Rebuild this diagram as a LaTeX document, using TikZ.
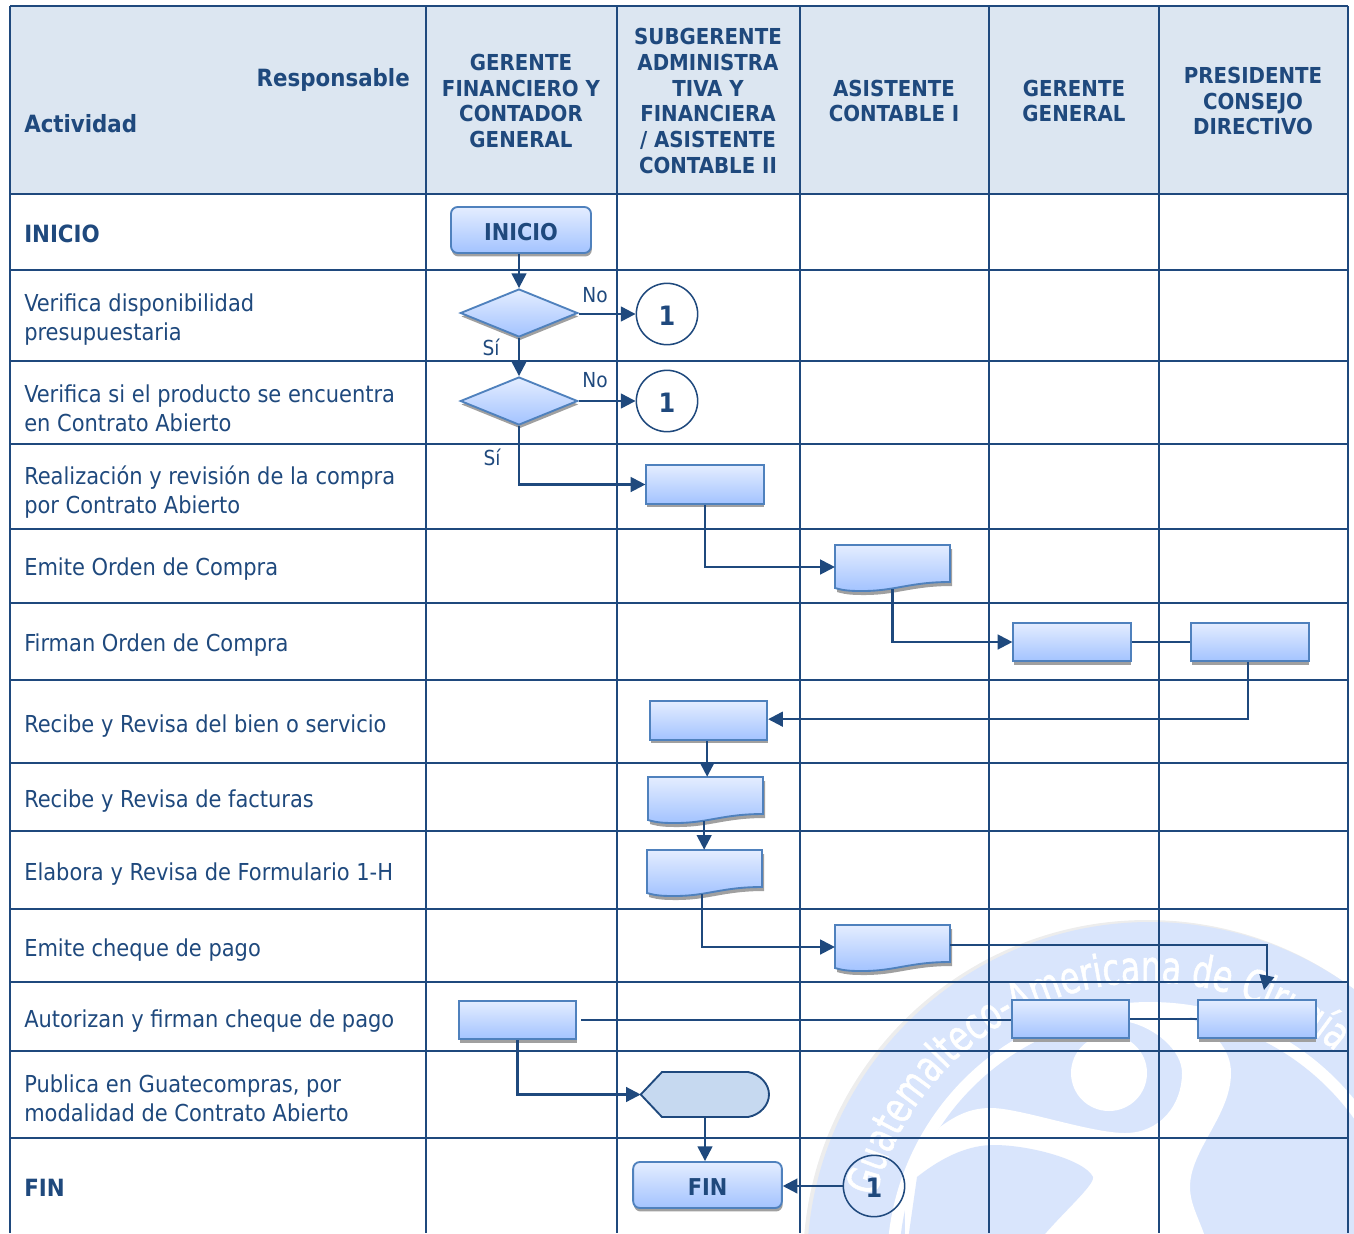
\documentclass[tikz,border=0pt]{standalone}
\usepackage{fontspec}
\setmainfont{DejaVu Sans Condensed}
\newfontfamily\wmfont{DejaVu Sans Condensed}[FakeStretch=0.8,FakeBold=1.2]
\usetikzlibrary{arrows.meta,shapes.geometric,shadows,decorations.text,calc}
\definecolor{navy}{HTML}{1F497D}
\definecolor{headfill}{HTML}{DCE6F1}
\definecolor{boxtop}{HTML}{E4EDFF}
\definecolor{boxbot}{HTML}{A3C3FF}
\definecolor{boxline}{HTML}{4F81BD}
\definecolor{shade}{HTML}{A0A0A0}
\definecolor{wm}{HTML}{D9E5FC}
\definecolor{dispfill}{HTML}{C6D9F0}
\tikzset{
  grid/.style={draw=navy,line width=1.45pt},
  conn/.style={draw=navy,line width=1.7pt},
  arr/.style={conn,-{Triangle[length=11pt,width=11pt]}},
  softshadow/.style={drop shadow={shadow xshift=0.6pt,shadow yshift=-2.6pt,fill=shade,opacity=1}},
  fillgrad/.style={top color=boxtop,bottom color=boxbot,draw=boxline,line width=1.4pt},
  procbox/.style={rectangle,fillgrad,softshadow,minimum width=88pt,minimum height=29pt,inner sep=0pt},
  termbox/.style={rectangle,rounded corners=5pt,fillgrad,softshadow,inner sep=0pt,text=navy,font=\fontsize{17.4}{20}\selectfont\bfseries},
  decide/.style={diamond,fillgrad,softshadow,minimum width=88pt,minimum height=36pt,inner sep=0pt},
  link/.style={circle,draw=navy,line width=1.15pt,minimum size=46pt,inner sep=0pt,text=navy,font=\fontsize{20}{24}\selectfont\bfseries},
  anchorbox/.style={rectangle,minimum width=86pt,minimum height=33pt,inner sep=0pt},
  activity/.style={anchor=west,align=left,text=navy,inner sep=0pt,font=\fontsize{17.5}{21.7}\selectfont},
  activitybold/.style={anchor=west,align=left,text=navy,inner sep=0pt,font=\fontsize{17.8}{22}\selectfont\bfseries},
  head/.style={align=center,text=navy,inner sep=0pt,font=\fontsize{16.5}{19.4}\selectfont\bfseries},
  answer/.style={text=navy,inner sep=0pt,font=\fontsize{15.5}{18}\selectfont},
}
\newcommand{\docshape}[3]{%
  \path[fill=shade,shift={(#2+2,#3+4)}] (0,0) -- (115,0) -- (115,37) .. controls (75,37) and (60,46) .. (28,46) .. controls (18,46) and (10,46) .. (0,43) -- cycle;
  \shade[fillgrad,shift={(#2,#3)}] (0,0) -- (115,0) -- (115,37) .. controls (75,37) and (60,46) .. (28,46) .. controls (18,46) and (10,46) .. (0,43) -- cycle;
  \node[anchorbox] (#1) at (#2+57.5,#3+22) {};
}
\newcommand{\lowered}[1]{\raisebox{-1.5pt}[\height][\depth]{#1}}
\begin{document}
\begin{tikzpicture}[x=0.75pt,y=-0.75pt]
\useasboundingbox (0,0) rectangle (1354,1233);
% watermark
\begin{scope}
\clip (0,0) rectangle (1354,1233);
\fill[black!7] (1147,1264) circle (344);
\fill[wm] (1150,1265) circle (343);
\coordinate (wmc) at (1150,1265);
\path[decorate,decoration={text along path,text align={left},
  text={|\wmfont\fontsize{33}{33}\selectfont\color{white}|Guatemalteco-Americana de Cirugía}}]
  ($(wmc)+(166:212pt)$) arc[start angle=166,end angle=30,radius=212pt];
\fill[white] (1150,1265) circle (263);
\fill[wm] (1150,1265) circle (251);
\fill[white] (940,1127) .. controls (960,1112) and (975,1108) .. (991,1108)
  .. controls (1020,1108) and (1090,1133) .. (1125,1133)
  .. controls (1160,1133) and (1182,1105) .. (1182,1073)
  .. controls (1182,1050) and (1155,1028) .. (1129,1022)
  -- (1129,1012) -- (1180,1012)
  .. controls (1215,1030) and (1231,1050) .. (1231,1073)
  .. controls (1231,1115) and (1190,1150) .. (1190,1187)
  .. controls (1190,1205) and (1200,1220) .. (1206,1240)
  -- (905,1240) -- (905,1180) -- cycle;
\fill[white] (1109,1073) circle (38);
\fill[wm] (917,1177) .. controls (945,1155) and (970,1145) .. (994,1145)
  .. controls (1030,1145) and (1085,1160) .. (1093,1177)
  .. controls (1095,1185) and (1060,1215) .. (1040,1240)
  -- (908,1240) -- cycle;
\end{scope}
% table
\fill[headfill] (10,6) rectangle (1348,194);
\foreach \gx in {10,426,617,800,989,1159,1348} \draw[grid] (\gx,6) -- (\gx,1233);
\foreach \gy in {6,194,270,361,444,529,603,680,763,831,909,982,1051,1138} \draw[grid] (10,\gy) -- (1348,\gy);
% headers
\node[activitybold,anchor=east] (hresp) at (410,80) {Responsable};
\node[activitybold] (hact) at (24,124) {Actividad};
\node[head] (h1) at (521,101) {GERENTE\\FINANCIERO Y\\CONTADOR\\GENERAL};
\node[head] (h2) at (708,101) {SUBGERENTE\\ADMINISTRA\\TIVA Y\\FINANCIERA\\/ ASISTENTE\\CONTABLE II};
\node[head] (h3) at (894,101) {ASISTENTE\\CONTABLE I};
\node[head] (h4) at (1074,101) {GERENTE\\GENERAL};
\node[head] (h5) at (1253,101) {PRESIDENTE\\CONSEJO\\DIRECTIVO};
% activities
\node[activitybold] (a1) at (24,234) {INICIO};
\node[activity] (a2) at (24,320) {Verifica disponibilidad\\presupuestaria};
\node[activity] (a3) at (24,408) {Verifica si el producto se encuentra\\en Contrato Abierto};
\node[activity] (a4) at (24,492.5) {Realización y revisión de la compra\\por Contrato Abierto};
\node[activity] (a5) at (24,569) {Emite Orden de Compra};
\node[activity] (a6) at (24,645) {Firman Orden de Compra};
\node[activity] (a7) at (24,726) {Recibe y Revisa del bien o servicio};
\node[activity] (a8) at (24,801) {Recibe y Revisa de facturas};
\node[activity] (a9) at (24,874) {Elabora y Revisa de Formulario 1-H};
\node[activity] (a10) at (24,950) {Emite cheque de pago};
\node[activity] (a11) at (24,1021) {Autorizan y firman cheque de pago};
\node[activity] (a12) at (24,1098) {Publica en Guatecompras, por\\modalidad de Contrato Abierto};
\node[activitybold] (a13) at (24,1188) {FIN};
% shapes
\node[termbox,minimum width=105pt,minimum height=34.5pt] (inicio) at (521,230) {\lowered{INICIO}};
\node[decide] (d1) at (519,313) {};
\node[decide] (d2) at (519,401) {};
\node[link] (c1) at (667,314) {\lowered{1}};
\node[link] (c2) at (667,401) {\lowered{1}};
\node[procbox] (b1) at (705,484.5) {};
\docshape{doc1}{835}{545}
\node[procbox] (b2) at (1072,642) {};
\node[procbox] (b3) at (1250,642) {};
\node[procbox] (rec) at (708.5,720.5) {};
\docshape{doc2}{648}{777}
\docshape{doc3}{647}{850}
\docshape{doc4}{835}{925}
\node[procbox] (aut1) at (517.5,1020) {};
\node[procbox] (aut2) at (1070.5,1019) {};
\node[procbox] (aut3) at (1257,1019) {};
\node[rectangle,minimum width=96pt,minimum height=34pt,inner sep=0pt] (pub) at (705,1094.5) {};
\draw[navy,fill=dispfill,line width=1.4pt] (pub.west) -- (662,1072) -- (748,1072)
  .. controls (760,1074) and (769,1084) .. (769,1094.5)
  .. controls (769,1105) and (760,1115) .. (748,1117) -- (662,1117) -- cycle;
\node[termbox,minimum width=111.5pt,minimum height=34.5pt] (fin) at (707.5,1185) {\lowered{FIN}};
\node[link] (c3) at (874,1186) {\lowered{1}};
% labels
\node[answer] (no1) at (595,295) {No};
\node[answer] (si1) at (491,347) {Sí};
\node[answer] (no2) at (595,380) {No};
\node[answer] (si2) at (492,457) {Sí};
% connectors
\draw[arr] (inicio.south -| d1.north) -- (d1.north);
\draw[arr] (d1.east |- c1.west) -- (c1.west);
\draw[arr] (d1.south) -- (d2.north);
\draw[arr] (d2.east) -- (c2.west);
\draw[arr] (d2.south) |- (b1.west);
\draw[arr] (b1.south) |- (doc1.west);
\draw[arr] (doc1.south) |- (b2.west);
\draw[conn] (b2.east) -- (b3.west);
\draw[arr] ([xshift=-1.5pt]b3.south) |- ([yshift=1pt]rec.east);
\draw[arr] ([xshift=-1pt]rec.south) -- ([xshift=-1pt]rec.south |- doc2.north);
\draw[arr] ([xshift=-1pt]doc2.south) -- ([xshift=-1pt]doc2.south |- doc3.north);
\draw[arr] ([xshift=-2pt]doc3.south) |- (doc4.west);
\coordinate (tip) at (1264,990);
\coordinate (bend) at (1267,945);
\draw[conn] (doc4.east |- bend) -- (bend) -- (1267,975);
\draw[arr] (1267,975) -- (tip);
\draw[conn] ([xshift=3pt]aut1.east) -- (aut1.east -| aut2.west);
\draw[conn] (aut2.east) -- (aut3.west);
\draw[arr] (aut1.south) |- (pub.west);
\draw[arr] (pub.south) -- (pub.south |- fin.north);
\draw[arr] (c3.west) -- (c3.west -| fin.east);
\end{tikzpicture}
\end{document}
